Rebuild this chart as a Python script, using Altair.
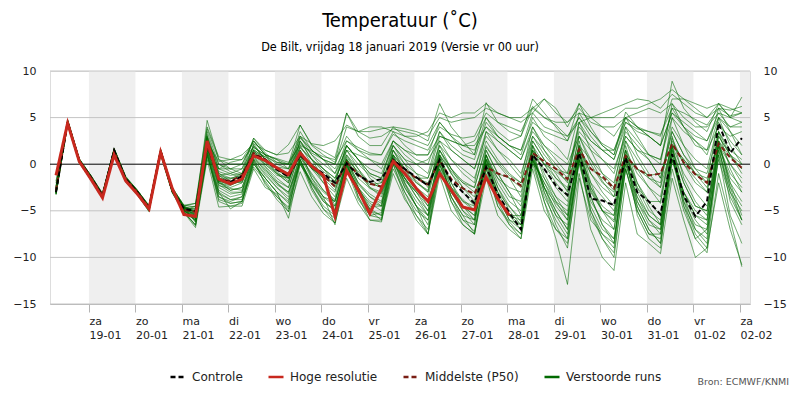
import altair as alt
import pandas as pd

# ---------------- data ----------------
# time axis: hours since 18-01 00:00 local, 6-hourly from 18-01 07:00
first_hour = 7
step_hours = 6

day_names = ["za", "zo", "ma", "di", "wo", "do", "vr", "za", "zo", "ma", "di", "wo", "do", "vr", "za"]
date_labels = ["19-01", "20-01", "21-01", "22-01", "23-01", "24-01", "25-01", "26-01",
               "27-01", "28-01", "29-01", "30-01", "31-01", "01-02", "02-02"]
shaded_day_starts = [24, 72, 120, 168, 216, 264, 312, 360]
y_ticks = [-15, -10, -5, 0, 5, 10]

controle = [-3.0, 4.5, 0.4, -1.4, -3.4, 1.5, -1.6, -3.0, -4.7, 1.4, -2.8, -4.8,
            -5.0, 2.3, -1.6, -1.9, -1.3, 1.0, 0.5, -0.6, -1.3, 1.0, -0.2, -1.0,
            -2.0, 0.1, -1.2, -1.9, -1.6, 0.5, -0.5, -1.4, -2.3, 0.5, -1.8, -3.0,
            -4.2, -0.3, -3.2, -5.2, -7.0, 1.0, -0.5, -2.3, -3.3, 1.2, -3.7, -3.9,
            -4.4, 0.7, -3.0, -4.0, -5.4, 1.1, -3.4, -5.6, -4.0, 4.4, 1.2, 2.8]
hoge_resolutie = [-1.2, 4.4, 0.3, -1.6, -3.6, 1.0, -1.8, -3.2, -4.8, 1.3, -2.6, -5.4,
                  -5.6, 2.5, -1.6, -2.1, -1.6, 0.9, 0.4, -0.4, -1.1, 1.2, -0.2, -1.2,
                  -5.6, -0.7, -2.8, -5.3, -2.6, 0.3, -1.0, -2.6, -4.0, -1.0, -2.8, -4.6,
                  -4.9, -1.4, -3.7, -5.5]
middelste = [-2.8, 4.5, 0.4, -1.4, -3.3, 1.4, -1.6, -3.0, -4.7, 1.3, -2.8, -4.9,
             -5.1, 2.0, -1.6, -1.8, -1.2, 1.2, 0.5, -0.5, -1.3, 1.0, -0.3, -1.2,
             -2.4, 0.2, -1.1, -2.1, -2.4, 0.4, -0.6, -1.5, -2.2, 0.4, -1.6, -2.6,
             -3.2, -0.3, -1.0, -1.4, -2.3, 1.2, 0.3, -0.5, -1.6, 1.6, -0.5, -1.3,
             -2.6, 0.9, -0.5, -1.2, -1.0, 2.2, 0.2, -1.1, -2.0, 2.2, 0.7, -0.4]

m01 = [-2.9, 4.6, 0.5, -1.3, -3.3, 1.4, -1.5, -2.9, -4.6, 1.3, -2.7, -4.7, -5.4, 2.6, -1.2, -2.0,
       -1.5, 1.2, 0.3, -0.8, -1.8, 1.3, -0.4, -1.5, -2.8, 0.6, -1.5, -2.6, -3.2, 0.2, -1.8, -3.0,
       -4.0, 0.4, -2.5, -3.8, -4.9, 0.2, -3.0, -4.6, -5.8, 0.8, -2.5, -4.2, -5.5, 1.5, -2.8, -5.0,
       -6.2, 0.5, -3.5, -5.5, -6.5, 1.8, -2.0, -4.5, -5.0, 2.0, -1.0, -2.5]
m02 = [-2.5, 4.3, 0.3, -1.5, -3.6, 1.2, -1.8, -3.1, -4.9, 1.1, -3.0, -5.0, -4.5, 1.5, -0.5, 0.2,
       0.5, 1.8, 1.0, 0.6, 0.2, 2.0, 1.4, 0.8, 0.5, 2.5, 1.8, 1.2, 1.0, 3.2, 2.5, 2.0,
       1.5, 4.0, 3.2, 2.8, 3.0, 5.5, 4.5, 4.0, 3.5, 6.2, 5.0, 4.2, 3.0, 5.0, 3.5, 2.2,
       1.5, 4.5, 3.8, 3.5, 3.2, 6.0, 5.5, 4.8, 4.2, 6.0, 5.2, 5.5]
m03 = [-3.2, 4.8, 0.6, -1.2, -3.1, 1.6, -1.4, -2.8, -4.5, 1.5, -2.6, -4.5, -6.2, 1.2, -3.5, -4.2,
       -4.0, -0.3, -1.8, -3.5, -4.6, 0.2, -2.8, -4.8, -5.8, -0.5, -3.8, -5.5, -5.2, 0.3, -2.5, -4.5,
       -6.5, 0.0, -4.0, -6.0, -7.2, -0.5, -4.5, -6.2, -7.5, 1.5, -3.0, -6.5, -9.0, 0.5, -5.5, -8.0,
       -9.5, -0.5, -5.0, -7.5, -8.0, 2.0, -4.0, -7.5, -9.0, 1.0, -5.5, -8.5]
m04 = [-2.0, 4.2, 0.1, -1.6, -3.5, 1.3, -1.7, -3.2, -5.0, 1.2, -2.9, -5.1, -5.8, 3.0, -1.8, -2.8,
       -2.5, 0.8, -0.5, -2.0, -3.2, 0.8, -1.0, -2.8, -3.8, 0.2, -2.2, -3.5, -4.2, 1.5, -0.8, -2.0,
       -2.8, 2.0, -0.5, -1.8, -2.5, 1.8, 0.2, -1.2, -2.0, 2.5, 0.5, -1.5, -2.8, 3.0, 0.5, -1.8,
       -3.5, 2.5, -0.5, -2.5, -4.2, 2.8, 0.0, -2.0, -3.0, 3.5, 1.0, -0.5]
m05 = [-2.7, 4.4, 0.4, -1.4, -3.4, 1.5, -1.6, -3.0, -4.8, 1.4, -2.8, -4.9, -5.0, 4.7, 0.5, -0.5,
       -1.0, 2.8, 1.2, 0.2, 0.0, 4.2, 2.0, 1.0, 0.2, 5.5, 3.5, 2.8, 3.0, 3.8, 3.5, 3.2,
       2.5, 6.5, 4.0, 2.5, 1.0, 6.6, 4.5, 3.5, 3.0, 7.0, 5.5, 4.0, 2.5, 6.5, 4.0, 2.0,
       1.0, 5.6, 4.0, 3.0, 2.0, 8.9, 6.0, 4.5, 3.5, 6.5, 5.0, 7.2]
m06 = [-3.3, 4.5, 0.2, -1.7, -3.7, 1.1, -1.9, -3.3, -5.1, 1.0, -3.1, -5.2, -6.8, 0.5, -4.6, -4.5,
       -4.5, -0.5, -2.5, -3.2, -5.1, -0.8, -3.5, -5.3, -6.3, -1.5, -4.2, -6.0, -6.0, -1.0, -3.8, -5.5,
       -7.5, -1.2, -5.0, -6.5, -7.5, -1.5, -5.5, -7.0, -8.0, -0.5, -5.0, -7.0, -8.5, -1.0, -7.0, -10.0,
       -11.4, -2.0, -7.5, -8.5, -9.6, -1.5, -6.0, -10.0, -9.0, -2.0, -7.0, -10.8]
m07 = [-3.0, 4.6, 0.3, -1.5, -3.3, 1.6, -1.5, -2.9, -4.7, 1.5, -2.7, -4.6, -5.2, 2.0, -2.2, -3.0,
       -3.0, 1.5, -0.2, -1.5, -2.5, 1.5, -1.5, -3.5, -4.5, 0.0, -2.8, -4.2, -5.0, 0.8, -2.0, -4.0,
       -5.5, 0.5, -3.5, -5.5, -6.0, 0.5, -2.5, -4.5, -6.2, 0.5, -4.0, -8.0, -12.9, -1.5, -6.0, -7.5,
       -8.5, 0.0, -4.0, -6.5, -7.0, 0.5, -3.0, -5.5, -6.5, 2.5, -2.0, -4.0]
m08 = [-2.6, 4.7, 0.5, -1.2, -3.2, 1.7, -1.3, -2.8, -4.4, 1.6, -2.5, -4.4, -4.2, 2.4, 0.3, 0.5,
       1.0, 2.2, 1.5, 1.0, 1.2, 3.0, 2.2, 2.0, 2.5, 4.2, 3.5, 3.5, 3.8, 4.0, 3.8, 3.5,
       3.0, 5.0, 4.5, 4.8, 5.0, 6.0, 5.5, 5.0, 4.5, 5.5, 4.0, 3.5, 3.0, 4.5, 5.0, 5.5,
       6.0, 6.5, 7.0, 6.8, 6.0, 7.5, 6.5, 5.5, 5.0, 6.0, 5.8, 6.2]
m09 = [-2.8, 4.5, 0.4, -1.4, -3.4, 1.4, -1.6, -3.0, -4.7, 1.3, -2.8, -4.9, -5.3, 1.8, -1.5, -1.6,
       -1.0, 1.3, 0.8, -0.3, -1.0, 1.2, 0.0, -1.0, -2.2, 0.5, -0.8, -2.0, -2.5, 0.6, -0.5, -1.5,
       -2.0, 1.0, -0.8, -2.0, -3.0, 0.0, -1.0, -1.5, -2.5, 1.5, 0.0, -0.8, -1.8, 1.8, -0.5, -1.5,
       -2.8, 1.0, -0.5, -1.2, -1.0, 2.2, 0.5, -1.0, -2.0, 2.5, 0.8, -0.5]
m10 = [-3.1, 4.4, 0.5, -1.3, -3.5, 1.5, -1.7, -3.1, -4.8, 1.2, -2.9, -5.0, -6.0, 1.5, -3.0, -3.8,
       -3.5, 0.5, -1.2, -2.5, -3.8, 0.5, -2.2, -4.0, -5.0, 0.3, -3.0, -4.8, -5.5, 1.0, -2.0, -4.5,
       -7.5, 0.8, -3.5, -6.0, -6.5, 0.5, -4.0, -6.5, -8.0, 0.5, -3.5, -6.0, -8.0, 1.0, -5.0, -7.5,
       -9.0, 1.0, -5.5, -8.0, -9.0, 1.5, -4.5, -7.0, -8.5, 2.0, -4.0, -6.5]
m11 = [-2.4, 4.3, 0.2, -1.5, -3.5, 1.3, -1.7, -3.1, -4.9, 1.3, -2.6, -4.5, -4.2, 4.0, 0.8, 0.5,
       0.5, 2.5, 1.0, -0.5, -1.5, 2.5, 0.5, -1.5, -2.0, 2.0, 0.5, -1.0, -1.5, 2.0, 0.5, -1.0,
       -1.5, 3.0, 2.5, 2.0, 1.5, 4.0, 2.5, 1.5, 0.5, 3.5, 2.0, 1.0, 0.0, 3.0, 1.5, 0.5,
       -0.5, 3.0, 1.5, 1.0, 0.5, 5.0, 3.5, 2.5, 1.5, 4.0, 3.0, 3.5]
m12 = [-3.2, 4.6, 0.4, -1.4, -3.6, 1.4, -1.8, -3.2, -5.0, 1.3, -3.0, -5.1, -6.5, 0.8, -3.0, -4.8,
       -4.0, 0.0, -1.5, -3.0, -5.8, 0.0, -2.0, -3.5, -6.5, -0.5, -3.0, -5.0, -6.0, 0.5, -1.5, -3.0,
       -5.0, 1.5, -0.5, -2.5, -4.0, 1.5, -1.0, -3.0, -5.5, 1.0, -0.5, -2.5, -4.0, 2.0, 0.5, -1.0,
       -2.0, 3.0, 1.5, 0.5, -1.5, 3.5, 1.0, -1.0, -2.5, 3.0, 1.0, 0.0]
m13 = [-2.9, 4.5, 0.5, -1.3, -3.3, 1.5, -1.6, -3.0, -4.6, 1.4, -2.7, -4.8, -5.5, 2.8, -1.0, -1.5,
       -1.5, 2.0, 0.5, -1.0, -2.0, 2.5, 1.0, 0.0, -1.0, 2.5, 1.5, 0.5, -0.5, 2.5, 1.0, 0.0,
       -1.0, 3.5, 1.5, 0.5, -0.5, 3.5, 2.5, 1.5, 0.5, 4.0, 2.0, 0.5, -1.0, 4.5, 2.5, 1.5,
       0.5, 4.0, 2.5, 1.0, 0.5, 6.0, 4.0, 2.5, 1.0, 5.0, 3.5, 2.0]
m14 = [-3.0, 4.4, 0.3, -1.6, -3.5, 1.2, -1.8, -3.2, -4.9, 1.1, -3.0, -5.2, -6.5, 1.0, -4.0, -4.5,
       -4.2, 0.2, -2.0, -3.8, -5.1, 0.5, -2.5, -4.8, -6.3, 0.3, -3.5, -6.0, -6.2, 0.0, -3.0, -5.5,
       -7.0, -0.5, -3.5, -5.5, -7.5, -0.5, -3.5, -6.0, -6.5, 0.5, -2.5, -5.0, -7.0, 0.5, -3.5, -6.5,
       -8.0, 0.5, -4.5, -7.0, -8.5, 0.5, -3.5, -6.0, -7.5, 1.0, -3.0, -5.0]
m15 = [-2.8, 4.7, 0.6, -1.2, -3.2, 1.6, -1.4, -2.8, -4.5, 1.5, -2.6, -4.6, -5.6, 2.2, -2.0, -2.5,
       -2.0, 1.0, 0.0, -1.2, -1.5, 1.8, 0.5, -0.5, -1.5, 1.0, -0.5, -2.5, -3.5, 0.5, -1.0, -2.5,
       -3.5, 1.5, -1.0, -3.0, -4.5, 1.0, -1.5, -3.5, -4.0, 2.0, 0.0, -2.0, -3.5, 2.0, -1.0, -3.0,
       -4.5, 1.5, -1.0, -2.5, -3.5, 2.5, 0.0, -1.5, -3.0, 3.0, 1.0, -1.0]
m16 = [-2.7, 4.5, 0.4, -1.4, -3.4, 1.5, -1.5, -2.9, -4.6, 1.4, -2.7, -4.7, -4.8, 3.5, 0.0, -0.5,
       -0.5, 2.8, 1.5, 1.0, 2.1, 4.2, 2.1, 1.4, 0.7, 5.5, 3.0, 2.0, 2.0, 4.0, 3.0, 2.5,
       2.0, 4.5, 3.0, 1.5, 1.0, 5.0, 3.0, 2.0, 1.5, 5.5, 7.0, 6.0, 4.0, 6.5, 5.0, 4.0,
       3.0, 5.0, 4.0, 3.5, 3.0, 7.0, 7.0, 6.0, 5.0, 6.5, 5.0, 4.5]
m17 = [-3.1, 4.5, 0.3, -1.5, -3.5, 1.4, -1.7, -3.1, -4.8, 1.3, -2.9, -4.9, -5.9, 1.8, -2.5, -3.2,
       -3.0, 0.8, -0.8, -2.2, -3.0, 1.0, -1.2, -2.8, -4.0, 0.5, -2.0, -3.2, -4.0, 0.5, -2.2, -4.5,
       -6.0, 0.0, -3.0, -4.5, -5.5, 0.0, -3.5, -5.5, -7.0, 0.5, -2.0, -4.5, -6.0, 0.5, -4.0, -6.0,
       -7.0, 0.0, -3.5, -6.0, -7.5, 0.5, -4.0, -6.5, -7.0, 0.5, -3.5, -6.0]
m18 = [-2.6, 4.6, 0.5, -1.3, -3.3, 1.6, -1.5, -2.9, -4.5, 1.6, -2.5, -4.4, -4.6, 3.2, -0.5, -1.0,
       -0.5, 1.8, 1.0, 0.0, -0.5, 2.8, 1.5, 0.5, -0.5, 2.0, 0.5, -0.5, -1.0, 2.0, 0.5, 0.0,
       0.5, 2.5, 1.5, 0.5, -0.5, 3.0, 1.5, 0.5, -1.0, 3.0, 1.5, 0.0, -1.5, 3.5, 2.0, 0.5,
       -1.0, 3.5, 2.0, 0.5, -1.5, 4.0, 2.0, 0.5, -0.5, 4.5, 2.5, 1.0]
m19 = [-3.0, 4.5, 0.4, -1.4, -3.4, 1.5, -1.6, -3.0, -4.7, 1.4, -2.8, -4.8, -5.7, 2.0, -2.0, -2.8,
       -2.5, 1.0, -0.3, -1.8, -2.5, 1.5, -0.5, -2.0, -3.5, 1.0, -1.0, -2.5, -3.0, 1.5, -0.5, -2.5,
       -4.5, 1.0, -2.0, -4.5, -5.5, 1.0, -2.5, -5.0, -6.5, 1.0, -2.5, -5.0, -7.0, 0.0, -4.5, -7.0,
       -8.0, -0.5, -4.5, -7.0, -8.5, -0.5, -5.0, -8.0, -9.5, -1.0, -6.0, -11.0]
m20 = [-2.5, 4.4, 0.3, -1.5, -3.6, 1.3, -1.8, -3.2, -4.8, 1.2, -2.8, -4.7, -4.8, 2.5, 0.0, -0.8,
       -1.2, 1.5, 0.8, 0.2, 0.0, 2.2, 1.2, 0.5, -1.0, 1.5, 1.0, 0.5, 0.0, 2.5, 1.5, 1.0,
       1.0, 3.0, 2.5, 2.0, 2.0, 4.0, 3.0, 2.0, 1.5, 4.5, 3.5, 3.0, 2.5, 5.0, 3.0, 1.5,
       0.5, 4.5, 3.5, 3.0, 2.0, 5.5, 4.5, 3.5, 2.5, 5.5, 4.0, 4.0]
m21 = [-1.8, 4.3, 0.2, -1.6, -3.6, 1.1, -1.8, -3.2, -4.9, 1.2, -2.9, -5.2, -6.0, 2.4, -1.8, -2.2,
       -1.8, 0.9, 0.3, -0.5, -1.5, 1.0, -0.5, -1.5, -4.5, -0.5, -2.5, -4.8, -3.0, 0.0, -1.5, -3.0,
       -4.5, -1.0, -2.5, -4.0, -5.0, -1.0, -3.5, -5.5, -6.0, 0.0, -1.5, -3.5, -4.5, 1.0, -2.0, -3.5,
       -5.0, 1.0, -2.0, -4.0, -5.5, 1.5, -2.0, -4.5, -5.0, 2.0, -1.5, -3.0]
m22 = [-2.9, 4.6, 0.5, -1.3, -3.3, 1.5, -1.5, -2.9, -4.6, 1.4, -2.7, -4.6, -5.3, 2.5, -1.0, -1.8,
       -2.0, 1.5, 0.0, -1.0, -2.0, 2.0, 0.0, -2.0, -3.0, 1.5, -0.5, -2.0, -2.5, 1.0, -0.5, -1.5,
       -1.5, 2.0, 0.5, -0.5, -1.5, 2.5, 0.5, -1.0, -2.0, 3.0, 1.0, -0.5, -1.0, 4.0, 2.5, 1.5,
       1.5, 5.0, 4.0, 3.0, 2.0, 5.5, 4.0, 3.0, 2.5, 5.0, 4.0, 4.5]
m23 = [-3.1, 4.6, 0.4, -1.4, -3.4, 1.5, -1.6, -3.0, -4.7, 1.3, -2.8, -4.9, -6.0, 1.0, -3.5, -4.0,
       -3.5, 0.0, -1.5, -3.0, -4.0, 0.0, -2.0, -4.0, -5.0, 0.0, -3.0, -5.0, -5.5, 0.0, -3.5, -6.0,
       -7.5, -0.5, -4.0, -6.5, -7.5, 0.0, -4.5, -6.5, -7.5, 1.0, -3.0, -5.5, -6.5, 2.0, -2.5, -5.0,
       -6.0, 1.5, -3.0, -5.5, -6.5, 1.0, -4.5, -8.0, -7.0, 1.5, -3.0, -6.0]
m24 = [-2.7, 4.5, 0.5, -1.3, -3.3, 1.5, -1.6, -3.0, -4.7, 1.4, -2.7, -4.8, -5.0, 3.0, -0.5, -0.5,
       0.0, 2.5, 1.0, 0.5, 0.0, 3.0, 1.5, 0.5, 0.0, 3.0, 1.5, 1.0, 1.0, 3.5, 2.0, 1.0,
       1.0, 4.5, 3.0, 2.0, 2.5, 5.0, 3.5, 2.5, 3.0, 6.0, 7.0, 5.5, 4.5, 6.0, 4.5, 4.0,
       4.0, 5.0, 5.5, 6.0, 5.5, 6.5, 5.0, 4.0, 4.0, 5.5, 5.0, 5.5]
m25 = [-2.9, 4.4, 0.4, -1.5, -3.5, 1.4, -1.7, -3.1, -4.9, 1.3, -2.9, -5.0, -5.8, 1.5, -2.8, -3.5,
       -3.2, 0.5, -1.0, -2.5, -3.5, 0.8, -1.5, -3.0, -4.0, 0.5, -2.0, -3.5, -4.5, 0.5, -1.5, -3.5,
       -5.0, 0.5, -2.0, -4.0, -4.5, 1.5, -1.0, -3.0, -4.5, 2.0, -1.0, -3.5, -5.5, 1.5, -2.5, -4.5,
       -5.5, 1.5, -2.5, -5.0, -6.0, 1.0, -3.0, -5.5, -6.0, 1.5, -2.5, -4.5]
m26 = [-2.8, 4.5, 0.4, -1.4, -3.3, 1.5, -1.6, -3.0, -4.7, 1.4, -2.8, -4.7, -4.5, 3.8, 0.5, 0.0,
       0.0, 2.5, 1.0, 0.5, -0.5, 3.5, 1.5, 0.5, 0.0, 4.0, 3.5, 4.0, 4.0, 3.5, 3.0, 3.0,
       3.5, 5.5, 5.0, 5.5, 5.5, 6.5, 5.5, 5.0, 5.0, 6.0, 5.0, 4.5, 4.5, 5.5, 5.0, 5.0,
       5.0, 6.0, 6.0, 6.5, 7.0, 8.0, 7.0, 6.5, 6.0, 6.5, 6.0, 5.5]
m27 = [-3.0, 4.5, 0.3, -1.4, -3.4, 1.4, -1.6, -3.0, -4.7, 1.3, -2.8, -4.8, -5.4, 2.2, -1.8, -2.2,
       -1.8, 1.2, 0.2, -1.0, -1.5, 1.5, -0.5, -1.2, -2.5, 0.8, -1.0, -2.2, -2.0, 1.0, -0.5, -1.8,
       -3.0, 1.0, -1.0, -2.5, -3.5, 0.5, -1.5, -2.5, -3.0, 1.5, 0.0, -1.5, -2.5, 1.5, -1.0, -2.5,
       -3.5, 1.0, -0.5, -1.5, -2.5, 2.0, 0.5, -1.0, -1.5, 2.0, 0.0, -1.5]
m28 = [-3.0, 4.4, 0.3, -1.5, -3.5, 1.4, -1.7, -3.1, -4.9, 1.2, -2.9, -5.0, -5.5, 1.6, -2.3, -2.6,
       -2.8, 0.6, -0.6, -2.0, -3.0, 0.2, -1.8, -3.5, -4.0, -0.2, -2.5, -4.5, -4.5, 0.5, -2.5, -4.5,
       -5.5, 0.0, -3.0, -5.0, -6.0, 0.5, -3.0, -5.5, -6.5, 0.0, -4.0, -7.0, -8.0, 0.5, -5.0, -8.0,
       -10.0, -0.5, -5.0, -7.5, -7.5, 0.5, -3.0, -5.0, -6.0, 2.0, -2.0, -5.5]
m29 = [-2.3, 4.4, 0.3, -1.5, -3.5, 1.3, -1.7, -3.1, -4.8, 1.3, -2.8, -5.0, -5.7, 2.6, -2.0, -2.3,
       -1.6, 1.0, 0.4, -0.5, -1.2, 1.2, -0.3, -1.3, -5.0, -0.3, -2.5, -5.0, -2.8, 0.2, -1.2, -2.8,
       -4.0, -1.0, -3.0, -4.5, -5.0, -1.5, -3.5, -5.5, -5.5, 0.5, -2.0, -4.0, -5.0, 1.0, -3.0, -5.0,
       -5.5, 1.0, -2.5, -4.0, -4.0, 2.0, -1.0, -3.0, -4.5, 2.5, 0.0, -2.0]
m30 = [-2.8, 4.6, 0.5, -1.3, -3.3, 1.6, -1.5, -2.9, -4.6, 1.5, -2.6, -4.5, -5.0, 2.8, -0.8, -1.2,
       -1.0, 2.0, 0.5, -0.5, -1.0, 2.5, 0.5, -0.5, -1.5, 2.0, 0.5, -1.0, -1.5, 2.5, 1.5, 0.5,
       0.0, 3.5, 2.0, 1.0, 0.5, 4.5, 3.0, 2.0, 1.0, 5.0, 3.0, 2.0, 0.5, 5.5, 3.5, 2.0,
       1.0, 5.0, 3.0, 1.0, 0.0, 6.5, 4.0, 2.0, 1.5, 6.0, 3.5, 1.0]
m31 = [-3.1, 4.7, 0.5, -1.3, -3.3, 1.6, -1.5, -2.9, -4.6, 1.4, -2.7, -4.7, -6.2, 1.3, -3.2, -3.8,
       -3.8, 0.3, -1.5, -3.0, -4.2, 0.5, -2.0, -3.8, -5.0, 0.5, -2.5, -4.0, -4.5, 1.0, -1.5, -3.5,
       -5.5, 1.0, -2.5, -4.5, -6.0, 1.0, -2.0, -4.0, -5.0, 2.0, -1.5, -4.0, -6.0, 2.5, -2.0, -5.0,
       -7.0, 2.0, -2.0, -4.5, -6.5, 3.0, -1.5, -4.0, -5.5, 3.5, -0.5, -3.0]
m32 = [-2.9, 4.5, 0.4, -1.4, -3.4, 1.5, -1.6, -3.0, -4.8, 1.4, -2.8, -4.8, -5.1, 2.0, -1.3, -1.5,
       -1.2, 1.6, 0.6, -0.3, -0.5, 1.8, 0.5, -0.8, -1.8, 1.5, 0.0, -1.2, -2.0, 1.5, 0.0, -1.0,
       -2.5, 1.5, -0.5, -2.0, -2.5, 2.0, 0.0, -1.5, -3.5, 2.5, 0.5, -1.0, -3.0, 3.0, 0.0, -2.0,
       -3.0, 2.5, 0.5, -1.5, -2.0, 3.5, 1.0, -0.5, -1.0, 3.5, 1.5, 0.5]
m33 = [-3.2, 4.3, 0.2, -1.6, -3.7, 1.2, -1.9, -3.3, -5.0, 1.1, -3.0, -5.1, -6.6, 1.2, -3.8, -4.2,
       -4.0, 0.5, -2.2, -3.5, -4.8, 0.5, -2.5, -4.5, -5.5, 0.0, -3.5, -5.5, -5.8, -0.5, -3.0, -5.0,
       -6.0, 0.5, -3.0, -5.0, -6.5, 1.0, -3.5, -6.0, -7.0, 1.5, -2.5, -5.5, -7.5, 1.5, -3.5, -6.5,
       -8.5, 1.0, -4.0, -6.0, -7.0, 2.0, -3.5, -7.0, -8.0, 2.5, -2.5, -6.0]
m34 = [-2.7, 4.6, 0.5, -1.3, -3.2, 1.7, -1.4, -2.8, -4.5, 1.5, -2.6, -4.5, -5.2, 2.9, -1.2, -1.0,
       -1.5, 2.2, 0.5, -0.5, -1.0, 3.0, 1.0, -0.5, -2.0, 2.0, 0.5, -1.5, -2.5, 2.0, 0.0, -2.0,
       -3.0, 2.5, 0.5, -1.0, -2.0, 3.5, 1.5, 0.0, -1.5, 4.0, 1.5, -0.5, -2.0, 4.5, 1.5, -1.0,
       -2.5, 4.0, 1.0, -1.0, -2.5, 5.0, 2.0, -0.5, -2.0, 5.0, 2.0, 0.0]

members = [m01, m02, m03, m04, m05, m06, m07, m08, m09, m10, m11, m12, m13, m14, m15, m16, m17,
           m18, m19, m20, m21, m22, m23, m24, m25, m26, m27, m28, m29, m30, m31, m32, m33, m34]

series_names = ["Controle", "Hoge resolutie", "Middelste (P50)", "Verstoorde runs"]
series_colors = ["#000000", "#c8281e", "#7a1e14", "#006a00"]
series_dashes = [[5, 3], [1, 0], [5, 3], [1, 0]]

# ---------------- tables ----------------
def hours_for(vals):
    return [first_hour + step_hours * i for i in range(len(vals))]

def frame(vals, name, member="x"):
    return pd.DataFrame({"hour": hours_for(vals), "temp": vals, "serie": name, "member": member})

ens_df = pd.concat([frame(v, "Verstoorde runs", "m%02d" % (k + 1)) for k, v in enumerate(members)],
                   ignore_index=True)
ctl_df = frame(controle, "Controle")
hres_df = frame(hoge_resolutie, "Hoge resolutie")
med_df = frame(middelste, "Middelste (P50)")
bands_df = pd.DataFrame({"start": shaded_day_starts, "end": [s + 24 for s in shaded_day_starts]})
grid_df = pd.DataFrame({"v": [t for t in y_ticks if t != 0]})
zero_df = pd.DataFrame({"v": [0]})

# ---------------- encodings ----------------
FONT = "DejaVu Sans"
COND = "DejaVu Sans Condensed, Liberation Sans Narrow, DejaVu Sans"

def js_arr(xs):
    return "[" + ",".join("'%s'" % s for s in xs) + "]"

label_expr = ("[" + js_arr(day_names) + "[round(datum.value/24)-1], "
              + js_arr(date_labels) + "[round(datum.value/24)-1]]")

x_scale = alt.Scale(domain=[3.9, 365.2], nice=False, zero=False)
x_axis = alt.Axis(values=[24 * k for k in range(1, 16)], labelExpr=label_expr, title=None,
                  grid=False, tickSize=8, tickColor="#b4b4b4", domainColor="#b4b4b4",
                  labelAlign="left", labelBaseline="top", labelPadding=3, labelFontSize=11,
                  labelFont=FONT, labelLineHeight=14, labelOverlap=False, labelBound=False,
                  labelFlush=False, labelColor="#222222")

def X(field):
    return alt.X(field, scale=x_scale, axis=x_axis)

y_scale = alt.Scale(domain=[-15, 10], nice=False, zero=False)
y_left = alt.Axis(values=y_ticks, title=None, grid=False, domain=False, ticks=False,
                  labelPadding=14, labelFontSize=11, labelFont=FONT, labelColor="#222222")
y_right = alt.Axis(values=y_ticks, title=None, grid=False, domain=False, ticks=False,
                   orient="right", labelPadding=13, labelFontSize=11, labelFont=FONT,
                   labelColor="#222222")

legend = alt.Legend(orient="none", legendX=119, legendY=297, direction="horizontal", title=None,
                    symbolType="stroke", symbolSize=225, symbolStrokeWidth=2.5, symbolOpacity=1,
                    labelFontSize=12, labelFont=FONT, labelColor="#222222", columnPadding=20,
                    labelOffset=5, padding=0)
color = alt.Color("serie:N", scale=alt.Scale(domain=series_names, range=series_colors), legend=legend)
dash = alt.StrokeDash("serie:N", scale=alt.Scale(domain=series_names, range=series_dashes),
                      legend=legend)

# ---------------- layers ----------------
bands = alt.Chart(bands_df).mark_rect(color="#efefef", clip=True).encode(
    x=X("start:Q"), x2="end:Q")
grid = alt.Chart(grid_df).mark_rule(color="#c4c4c4", strokeWidth=1).encode(
    y=alt.Y("v:Q", scale=y_scale, axis=None))
zero = alt.Chart(zero_df).mark_rule(color="#000000", strokeWidth=1).encode(
    y=alt.Y("v:Q", scale=y_scale, axis=None))

ens = alt.Chart(ens_df).mark_line(strokeWidth=0.9, opacity=0.68).encode(
    x=X("hour:Q"), y=alt.Y("temp:Q", scale=y_scale, axis=y_left),
    color=color, strokeDash=dash, detail="member:N")
med = alt.Chart(med_df).mark_line(strokeWidth=2).encode(
    x=X("hour:Q"), y=alt.Y("temp:Q", scale=y_scale, axis=None), color=color, strokeDash=dash)
ctl = alt.Chart(ctl_df).mark_line(strokeWidth=2).encode(
    x=X("hour:Q"), y=alt.Y("temp:Q", scale=y_scale, axis=y_right), color=color, strokeDash=dash)
hres = alt.Chart(hres_df).mark_line(strokeWidth=3).encode(
    x=X("hour:Q"), y=alt.Y("temp:Q", scale=y_scale, axis=None), color=color, strokeDash=dash)

source = alt.Chart(pd.DataFrame({"t": ["Bron: ECMWF/KNMI"]})).mark_text(
    align="right", baseline="middle", fontSize=9.5, font=FONT, color="#555555"
).encode(text="t:N", x=alt.value(739), y=alt.value(311))

chart = alt.layer(bands, grid, zero, ens, med, ctl, hres, source).resolve_axis(
    y="independent"
).properties(
    width=700, height=233,
    autosize=alt.AutoSizeParams(type="none"),
    padding={"left": 42, "top": 63, "right": 42, "bottom": 88},
    title=alt.TitleParams(
        "Temperatuur (˚C)",
        subtitle="De Bilt, vrijdag 18 januari 2019 (Versie vr 00 uur)",
        anchor="middle", frame="group", font=COND, fontSize=20, fontWeight="normal",
        color="#000000", subtitleFont=COND, subtitleFontSize=12.5, subtitleColor="#000000",
        subtitlePadding=10, offset=12),
).configure_view(stroke=None).configure(background="#ffffff")

chart.save("out.html", embed_options={"renderer": "svg", "actions": False})
